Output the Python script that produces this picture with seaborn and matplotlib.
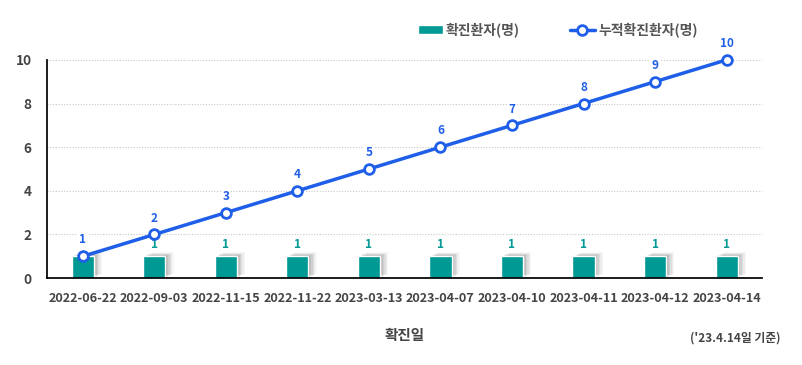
import matplotlib
matplotlib.use("Agg")
import matplotlib.pyplot as plt
import matplotlib.patheffects as pe
import seaborn as sns
import numpy as np
import pandas as pd

dates = ["2022-06-22", "2022-09-03", "2022-11-15", "2022-11-22", "2023-03-13",
         "2023-04-07", "2023-04-10", "2023-04-11", "2023-04-12", "2023-04-14"]
daily = [1, 1, 1, 1, 1, 1, 1, 1, 1, 1]
cumulative = [1, 2, 3, 4, 5, 6, 7, 8, 9, 10]

sns.set_theme(style="white")
plt.rcParams['font.family'] = ['Noto Sans CJK KR', 'DejaVu Sans']

BAR = "#009994"
LINE = "#1f5ee8"
TXT = "#444444"

df = pd.DataFrame({"date": dates, "daily": daily, "cum": cumulative, "pos": np.arange(len(dates))})

fig = plt.figure(figsize=(8.02, 3.65), dpi=100)
ax = fig.add_axes([0.0586, 0.238, 0.892, 0.598])

sns.barplot(data=df, x="date", y="daily", color=BAR, width=0.31, saturation=1, ax=ax,
            label="확진환자(명)", zorder=2)
shadow = []
for dx, dy, a in [(1, 0.5, 0.10), (2, 1, 0.09), (3, 1.5, 0.08), (4, 2, 0.07), (5, 2.5, 0.05), (6, 3, 0.04)]:
    shadow.append(pe.SimplePatchShadow(offset=(dx, dy), shadow_rgbFace="#303030", alpha=a))
for p in ax.patches:
    p.set_path_effects(shadow + [pe.Normal()])

sns.lineplot(data=df, x="pos", y="cum", color=LINE, linewidth=2.5, marker="o", markersize=7,
             markerfacecolor="white", markeredgecolor=LINE, markeredgewidth=2, ax=ax,
             label="누적확진환자(명)", clip_on=False, zorder=5)

for i, (d, c) in enumerate(zip(daily, cumulative)):
    ax.text(i, d + 0.25, str(d), ha="center", va="bottom", color=BAR, fontsize=8.5,
            fontweight="bold", zorder=3)
    ax.text(i, c + 0.45, str(c), ha="center", va="bottom", color=LINE, fontsize=8.5,
            fontweight="bold", zorder=6,
            bbox=dict(facecolor="white", edgecolor="none", pad=1))

ax.set_xlim(-0.5, len(dates) - 0.5)
ax.set_ylim(0, 10)
ax.set_yticks([0, 2, 4, 6, 8, 10])
ax.yaxis.grid(True, linestyle=(0, (1, 1.5)), color="#c8c8c8", linewidth=0.8)
ax.set_axisbelow(True)
ax.set_xticks(np.arange(len(dates)))
ax.set_xticklabels(dates)
ax.set_xticks(np.arange(-0.5, len(dates)), minor=True)
ax.tick_params(axis="x", which="major", length=0, pad=10, labelsize=9.1, labelcolor=TXT)
ax.tick_params(axis="x", which="minor", length=5, width=1, color="black", direction="out")
ax.tick_params(axis="y", length=0, pad=11, labelsize=9.8, labelcolor=TXT)
for lab in ax.get_xticklabels() + ax.get_yticklabels():
    lab.set_fontweight("bold")
ax.set_xlabel("확진일", fontsize=10.5, color=TXT, fontweight="bold", labelpad=16)
ax.set_ylabel("")
for s in ["top", "right"]:
    ax.spines[s].set_visible(False)
ax.spines["left"].set_color("black")
ax.spines["bottom"].set_color("black")

handles, labels = ax.get_legend_handles_labels()
if ax.get_legend() is not None:
    ax.get_legend().remove()
order = [labels.index("확진환자(명)"), labels.index("누적확진환자(명)")]
leg = fig.legend([handles[i] for i in order], [labels[i] for i in order],
                 loc="center left", bbox_to_anchor=(0.505, 0.918), ncol=2, frameon=False,
                 fontsize=10, handlelength=1.8, columnspacing=3.6, handletextpad=0.25)
for t in leg.get_texts():
    t.set_color("#555555")
    t.set_fontweight("bold")
for h in leg.legend_handles:
    h.set_path_effects([])

fig.text(0.973, 0.074, "('23.4.14일 기준)", ha="right", va="center", fontsize=8.5,
         color=TXT, fontweight="bold")

fig.savefig("out.png", dpi=100)
